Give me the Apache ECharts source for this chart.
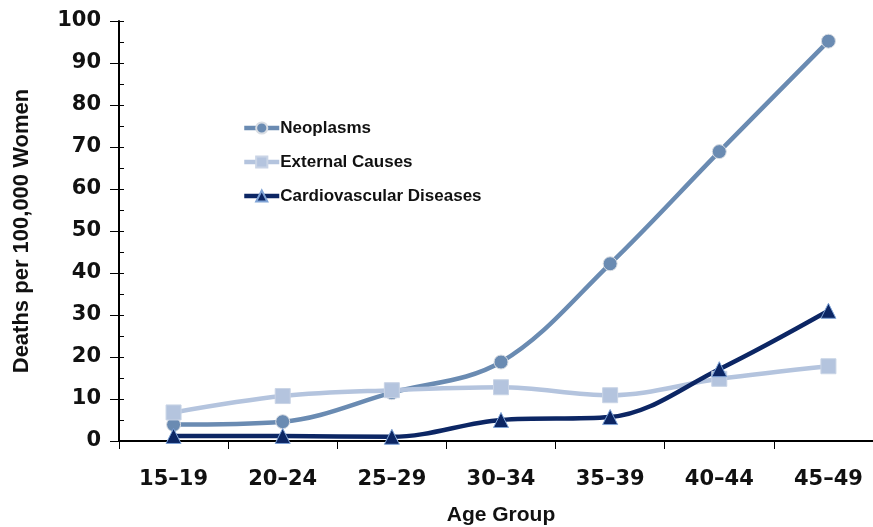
<!DOCTYPE html>
<html><head><meta charset="utf-8">
<script src="https://cdn.jsdelivr.net/npm/echarts@6/dist/echarts.min.js"></script>
<style>html,body{margin:0;padding:0;background:#fff;overflow:hidden;width:873px;height:527px}#c{width:873px;height:527px}</style>
</head><body><div id="c"></div>
<script>
var categories = ['15\u201319','20\u201324','25\u201329','30\u201334','35\u201339','40\u201344','45\u201349'];
var neoplasms = [3.9, 4.6, 11.5, 18.8, 42.2, 68.9, 95.2];
var externalCauses = [6.8, 10.7, 12.1, 12.8, 10.9, 14.8, 17.8];
var cardiovascular = [1.2, 1.2, 1.0, 5.0, 5.7, 17.1, 31.0];
var yTicks = [0, 100, 10];

var font = '"Liberation Sans", Arial, sans-serif';
var tickFont = '"DejaVu Sans", Verdana, sans-serif';
var chart = echarts.init(document.getElementById('c'), null, {renderer: 'canvas'});
chart.setOption({
  animation: false,
  grid: {left: 119, right: -10, top: 21, bottom: 86, containLabel: false, outerBoundsMode: 'none'},
  legend: {
    orient: 'vertical', left: 237, top: 114, itemGap: 16,
    itemWidth: 35, itemHeight: 14,
    lineStyle: {width: 4.5},
    textStyle: {fontFamily: font, fontWeight: 'bold', fontSize: 17, lineHeight: 18, color: '#111', padding: [0,0,0,-4]},
    data: ['Neoplasms','External Causes','Cardiovascular Diseases']
  },
  xAxis: {
    type: 'category', data: categories, boundaryGap: true,
    name: 'Age Group', nameLocation: 'middle', nameGap: 64,
    nameTextStyle: {fontFamily: font, fontWeight: 'bold', fontSize: 21, color: '#111'},
    axisLine: {lineStyle: {color: '#000', width: 2}},
    axisTick: {show: true, inside: false, length: 8, lineStyle: {color: '#000', width: 1}},
    axisLabel: {fontFamily: tickFont, fontWeight: 'bold', fontSize: 21, color: '#111', margin: 28}
  },
  yAxis: [{
    type: 'value', min: yTicks[0], max: yTicks[1], interval: yTicks[2],
    name: 'Deaths per 100,000 Women', nameLocation: 'middle', nameGap: 86, nameRotate: 90,
    nameTextStyle: {fontFamily: font, fontWeight: 'bold', fontSize: 22, color: '#111'},
    axisLine: {show: true, lineStyle: {color: '#000', width: 2}},
    axisTick: {show: true, inside: false, length: 9, lineStyle: {color: '#000', width: 1}},
    axisLabel: {fontFamily: tickFont, fontWeight: 'bold', fontSize: 21, color: '#111', margin: 18},
    splitLine: {show: false}
  },{
    type: 'value', min: yTicks[0], max: yTicks[1], interval: yTicks[2] / 2, position: 'left',
    axisLine: {show: false},
    axisTick: {show: true, inside: true, length: 5, lineStyle: {color: '#000', width: 1}},
    axisLabel: {show: false},
    splitLine: {show: false}
  }],
  series: [{
    name: 'Neoplasms', type: 'line', smooth: 0.35, data: neoplasms,
    symbol: 'circle', symbolSize: 14,
    lineStyle: {color: '#6a8bb2', width: 4.5},
    itemStyle: {color: '#6a8bb2', borderColor: '#d9dde3', borderWidth: 1}
  },{
    name: 'External Causes', type: 'line', smooth: 0.35, data: externalCauses,
    symbol: 'rect', symbolSize: 15,
    lineStyle: {color: '#b4c4de', width: 4.5},
    itemStyle: {color: '#b4c4de', borderColor: '#c9d4e6', borderWidth: 1}
  },{
    name: 'Cardiovascular Diseases', type: 'line', smooth: 0.35, data: cardiovascular,
    symbol: 'triangle', symbolSize: 15,
    lineStyle: {color: '#0c2664', width: 4.5},
    itemStyle: {color: '#0c2664', borderColor: '#7fa3d6', borderWidth: 1}
  }]
});
</script></body></html>
